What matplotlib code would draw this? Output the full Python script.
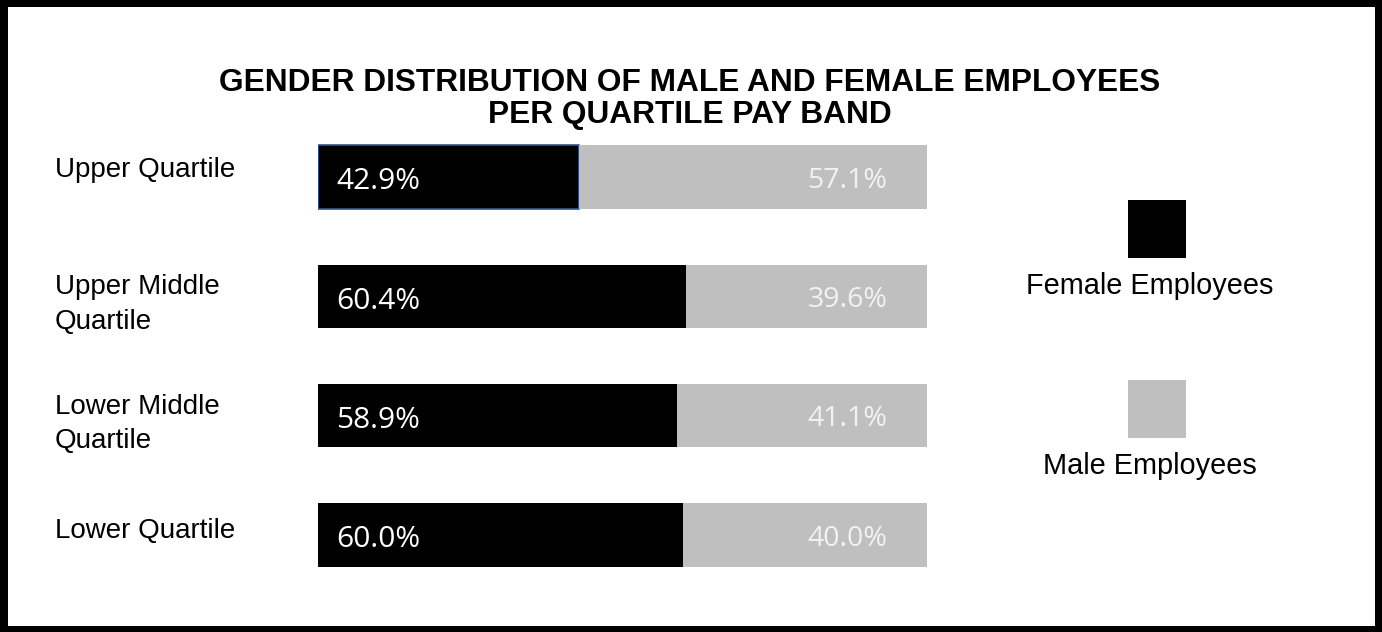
import matplotlib
matplotlib.use("Agg")
import matplotlib.pyplot as plt
from matplotlib.patches import Rectangle
import matplotlib.transforms as mtransforms

categories = ["Upper Quartile", "Upper Middle\nQuartile", "Lower Middle\nQuartile", "Lower Quartile"]
female = [42.9, 60.4, 58.9, 60.0]
male = [57.1, 39.6, 41.1, 40.0]
series_names = ["Female Employees", "Male Employees"]
title = "GENDER DISTRIBUTION OF MALE AND FEMALE EMPLOYEES\nPER QUARTILE PAY BAND"

W, H = 1382, 632
fig = plt.figure(figsize=(W / 100, H / 100), dpi=100)
fig.patch.set_facecolor("white")

BLACK = "#000000"
GRAY = "#BFBFBF"

ax = fig.add_axes([318 / W, 1 - 594.7 / H, 609 / W, 477.4 / H])
y = list(range(len(categories)))
edge = ["#2F5597"] + ["none"] * (len(categories) - 1)
ax.barh(y, female, height=0.53, color=BLACK, edgecolor=edge, linewidth=1.2)
ax.barh(y, male, left=female, height=0.53, color=GRAY, linewidth=0)
ax.set_xlim(0, 100)
ax.set_ylim(len(categories) - 0.5, -0.5)
ax.axis("off")

for i, (f, m) in enumerate(zip(female, male)):
    ax.text(3.0, i + 0.04, f"{f:.1f}%", color="white", fontsize=21.5,
            family="Open Sans", va="center", ha="left")
    ax.text(93.5, i + 0.03, f"{m:.1f}%", color="#F2F2F2", fontsize=20.5,
            family="Open Sans", va="center", ha="right")

# category labels on the left
trans = mtransforms.blended_transform_factory(fig.transFigure, ax.transData)
offsets = [-0.06, 0.07, 0.07, -0.03]
for i, (c, off) in enumerate(zip(categories, offsets)):
    ax.text(55 / W, i + off, c, transform=trans, fontsize=20,
            family="Liberation Sans", va="center", ha="left",
            linespacing=1.42, clip_on=False)

# title
fig.text(690 / W, 1 - 99 / H, title, ha="center", va="center", fontsize=22.8,
         fontweight="bold", family="Liberation Sans", linespacing=1.1)

# legend (manual, centered boxes with text beneath)
leg_colors = [BLACK, GRAY]
box_tops = [200, 380]
for name, col, top in zip(series_names, leg_colors, box_tops):
    fig.patches.append(Rectangle((1128 / W, 1 - (top + 58) / H), 58 / W, 58 / H,
                                 transform=fig.transFigure, facecolor=col,
                                 edgecolor="none"))
    fig.text(1150 / W, 1 - (top + 86) / H, name, ha="center", va="center",
             fontsize=20.8, family="Liberation Sans")

# outer black frame
frame = [(0, 0, W, 7), (0, 0, 8, H), (W - 7, 0, 7, H), (0, H - 6, W, 6)]
for (x0, y0, w, h) in frame:
    fig.patches.append(Rectangle((x0 / W, 1 - (y0 + h) / H), w / W, h / H,
                                 transform=fig.transFigure, facecolor="black",
                                 edgecolor="none"))

fig.savefig("out.png", dpi=100, facecolor="white")
